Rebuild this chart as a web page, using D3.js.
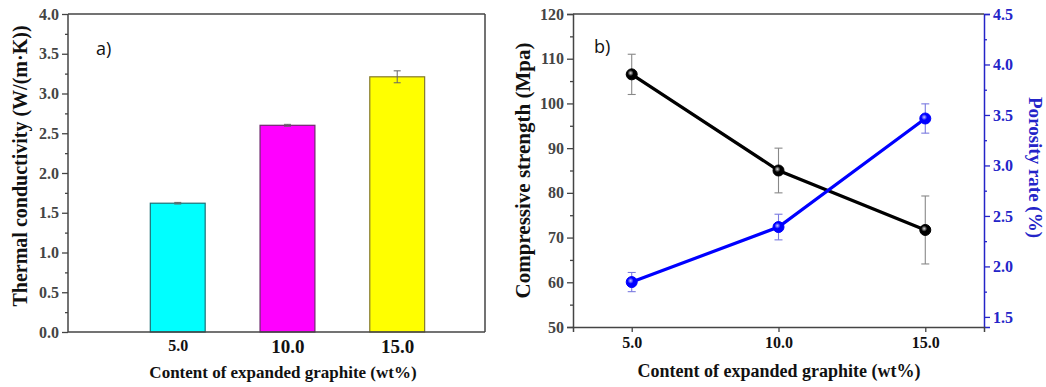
<!DOCTYPE html>
<html>
<head>
<meta charset="utf-8">
<script src="https://cdn.jsdelivr.net/npm/d3@7/dist/d3.min.js"></script>
<style>
  html, body { margin: 0; padding: 0; background: #fff; }
  svg { display: block; }
  .tick text { font-family: "Liberation Serif", "Times New Roman", serif; font-weight: bold; }
</style>
</head>
<body>
<svg id="chart" width="1046" height="387"></svg>
<script>
// ---- data ----
const egContent = [5, 10, 15];
const tickLabels = ["5.0", "10.0", "15.0"];

// panel a) thermal conductivity, W/(m·K)
const conductivity = [1.62, 2.60, 3.21];
const conductivityErr = [0.01, 0.012, 0.075];
const barColors = ["#00ffff", "#ff00ff", "#ffff00"];
const barEdges = ["#1d6f75", "#6e2a6e", "#857a2c"];

// panel b) compressive strength (MPa) and porosity (%)
const strength = [106.5, 85.0, 71.7];
const strengthErr = [4.5, 5.0, 7.6];
const porosity = [1.845, 2.39, 3.465];
const porosityErr = [0.095, 0.127, 0.145];

const svg = d3.select("#chart");
const serif = '"Liberation Serif", "Times New Roman", serif';
const sans = '"Open Sans", "Liberation Sans", sans-serif';
const axisColor = "#444";
const blue = "#2424c8";

// gradients for the shaded markers
const defs = svg.append("defs");
function sphere(id, dark, light) {
  const g = defs.append("radialGradient").attr("id", id)
    .attr("cx", "40%").attr("cy", "38%").attr("r", "60%");
  g.append("stop").attr("offset", "0%").attr("stop-color", light);
  g.append("stop").attr("offset", "45%").attr("stop-color", dark);
  g.append("stop").attr("offset", "100%").attr("stop-color", dark);
}
sphere("ballBlack", "#000", "#e0e0e0");
sphere("ballBlue", "#0000ff", "#c8c8ff");

function styleAxis(g, color) {
  g.select(".domain").attr("stroke", color).attr("stroke-width", 1.5);
  g.selectAll(".tick line").attr("stroke", color).attr("stroke-width", 1.3);
  g.selectAll(".tick text").attr("fill", color);
}

// minor ticks drawn as a second tick-only axis
function minorAxis(axisFn, scale, values, len) {
  return axisFn(scale).tickValues(values).tickSize(len).tickFormat("");
}

// ================= panel a) =================
(function () {
  const L = 68, R = 485, T = 14, B = 332;
  const x = d3.scaleLinear().domain([0, 19]).range([L, R]);
  const y = d3.scaleLinear().domain([0, 4]).range([B, T]);
  const barW = x(2.5) - x(0);

  const g = svg.append("g");

  // bars
  g.selectAll("rect.bar").data(egContent).join("rect")
    .attr("x", (d) => x(d) - barW / 2)
    .attr("y", (d, i) => y(conductivity[i]))
    .attr("width", barW)
    .attr("height", (d, i) => y(0) - y(conductivity[i]))
    .attr("fill", (d, i) => barColors[i])
    .attr("stroke", (d, i) => barEdges[i])
    .attr("stroke-width", 1.2);

  // error bars
  const eb = g.selectAll("g.err").data(egContent).join("g").attr("stroke", "#666").attr("stroke-width", 1);
  eb.append("line")
    .attr("x1", (d) => x(d)).attr("x2", (d) => x(d))
    .attr("y1", (d, i) => y(conductivity[i] + conductivityErr[i]))
    .attr("y2", (d, i) => y(conductivity[i] - conductivityErr[i]));
  [1, -1].forEach((s) => {
    eb.append("line")
      .attr("x1", (d) => x(d) - 3.5).attr("x2", (d) => x(d) + 3.5)
      .attr("y1", (d, i) => y(conductivity[i] + s * conductivityErr[i]))
      .attr("y2", (d, i) => y(conductivity[i] + s * conductivityErr[i]));
  });

  // y axis
  const yAx = g.append("g").attr("transform", `translate(${L},0)`)
    .call(d3.axisLeft(y).tickValues(d3.range(0, 4.01, 0.5)).tickSize(6).tickPadding(3).tickFormat(d3.format(".1f")));
  yAx.selectAll(".tick text").attr("font-size", 16);
  styleAxis(yAx, axisColor);
  yAx.select(".domain").remove();
  const yMinor = g.append("g").attr("transform", `translate(${L},0)`)
    .call(minorAxis(d3.axisLeft, y, d3.range(0.25, 4, 0.5), 3));
  styleAxis(yMinor, axisColor);
  yMinor.select(".domain").remove();

  // frame (left, bottom, top, right)
  const frame = g.append("g").attr("stroke", axisColor).attr("stroke-width", 1.5).attr("fill", "none");
  frame.append("line").attr("x1", L).attr("x2", L).attr("y1", T).attr("y2", B);
  frame.append("line").attr("x1", L).attr("x2", R).attr("y1", B).attr("y2", B);
  frame.append("line").attr("x1", L).attr("x2", R).attr("y1", T).attr("y2", T);
  frame.append("line").attr("x1", R).attr("x2", R).attr("y1", T).attr("y2", B);

  // x tick labels (no tick marks on this panel)
  const xAx = g.append("g").attr("transform", `translate(0,${B})`)
    .call(d3.axisBottom(x).tickValues(egContent).tickSize(0).tickPadding(8)
      .tickFormat((d, i) => tickLabels[i]));
  xAx.select(".domain").remove();
  xAx.selectAll(".tick text").attr("fill", "#111")
    .attr("font-size", (d, i) => (i === 0 ? 16 : 19));

  // titles
  g.append("text")
    .attr("transform", `translate(27,${(T + B) / 2 - 7}) rotate(-90)`)
    .attr("text-anchor", "middle")
    .attr("font-family", serif).attr("font-weight", "bold").attr("font-size", 20).attr("fill", "#111")
    .text("Thermal conductivity (W/(m·K))");
  g.append("text")
    .attr("x", 283).attr("y", 378).attr("text-anchor", "middle")
    .attr("font-family", serif).attr("font-weight", "bold").attr("font-size", 17).attr("fill", "#111")
    .text("Content of expanded graphite (wt%)");
  g.append("text")
    .attr("x", 96).attr("y", 55)
    .attr("font-family", sans).attr("font-size", 18).attr("fill", "#111")
    .text("a)");
})();

// ================= panel b) =================
(function () {
  const L = 573, R = 984, T = 14, B = 327;
  const x = d3.scaleLinear().domain([3, 17]).range([L, R]);
  const yL = d3.scaleLinear().domain([50, 120]).range([B, T]);
  const yR = d3.scaleLinear().domain([1.4, 4.5]).range([B, T]);

  const g = svg.append("g");

  // left axis
  const yAx = g.append("g").attr("transform", `translate(${L},0)`)
    .call(d3.axisLeft(yL).tickValues(d3.range(50, 121, 10)).tickSize(6).tickPadding(3));
  yAx.selectAll(".tick text").attr("font-size", 16);
  styleAxis(yAx, axisColor);
  const yMinor = g.append("g").attr("transform", `translate(${L},0)`)
    .call(minorAxis(d3.axisLeft, yL, d3.range(55, 120, 10), 3));
  styleAxis(yMinor, axisColor);
  yMinor.select(".domain").remove();

  // right axis
  const rAx = g.append("g").attr("transform", `translate(${R},0)`)
    .call(d3.axisRight(yR).tickValues(d3.range(1.5, 4.51, 0.5)).tickSize(6).tickPadding(3).tickFormat(d3.format(".1f")));
  rAx.selectAll(".tick text").attr("font-size", 16);
  styleAxis(rAx, blue);
  const rMinor = g.append("g").attr("transform", `translate(${R},0)`)
    .call(minorAxis(d3.axisRight, yR, d3.range(1.75, 4.5, 0.5), 3));
  styleAxis(rMinor, blue);
  rMinor.select(".domain").remove();

  // bottom axis
  const xAx = g.append("g").attr("transform", `translate(0,${B})`)
    .call(d3.axisBottom(x).tickValues(egContent).tickSize(5).tickPadding(5)
      .tickFormat((d, i) => tickLabels[i]));
  xAx.selectAll(".tick text").attr("font-size", 16);
  styleAxis(xAx, axisColor);
  xAx.selectAll(".tick text").attr("fill", "#111");

  // top border
  g.append("line").attr("x1", L).attr("x2", R).attr("y1", T).attr("y2", T)
    .attr("stroke", axisColor).attr("stroke-width", 1.5);

  // series: error bars, line, markers
  function series(vals, errs, yS, color, ball) {
    const eb = g.append("g").attr("stroke", color === "#000" ? "#888" : "#7a7ae0").attr("stroke-width", 1.1);
    egContent.forEach((d, i) => {
      eb.append("line").attr("x1", x(d)).attr("x2", x(d))
        .attr("y1", yS(vals[i] + errs[i])).attr("y2", yS(vals[i] - errs[i]));
      [1, -1].forEach((s) => {
        eb.append("line").attr("x1", x(d) - 4).attr("x2", x(d) + 4)
          .attr("y1", yS(vals[i] + s * errs[i])).attr("y2", yS(vals[i] + s * errs[i]));
      });
    });
    g.append("path")
      .datum(egContent)
      .attr("fill", "none").attr("stroke", color).attr("stroke-width", 3.2)
      .attr("d", d3.line().x((d) => x(d)).y((d, i) => yS(vals[i])));
    g.selectAll(null).data(egContent).join("circle")
      .attr("cx", (d) => x(d)).attr("cy", (d, i) => yS(vals[i]))
      .attr("r", 5.5).attr("fill", `url(#${ball})`)
      .attr("stroke", color).attr("stroke-width", 1);
  }
  series(strength, strengthErr, yL, "#000", "ballBlack");
  series(porosity, porosityErr, yR, "#0000ff", "ballBlue");

  // titles
  g.append("text")
    .attr("transform", `translate(530,${(T + B) / 2}) rotate(-90)`)
    .attr("text-anchor", "middle")
    .attr("font-family", serif).attr("font-weight", "bold").attr("font-size", 21).attr("fill", "#111")
    .text("Compressive strength (Mpa)");
  g.append("text")
    .attr("transform", `translate(1029,${(T + B) / 2 - 3}) rotate(90)`)
    .attr("text-anchor", "middle")
    .attr("font-family", serif).attr("font-weight", "bold").attr("font-size", 19).attr("fill", blue)
    .text("Porosity rate (%)");
  g.append("text")
    .attr("x", 779).attr("y", 377).attr("text-anchor", "middle")
    .attr("font-family", serif).attr("font-weight", "bold").attr("font-size", 18).attr("fill", "#111")
    .text("Content of expanded graphite (wt%)");
  g.append("text")
    .attr("x", 594).attr("y", 53)
    .attr("font-family", sans).attr("font-size", 18).attr("fill", "#111")
    .text("b)");
})();
</script>
</body>
</html>
